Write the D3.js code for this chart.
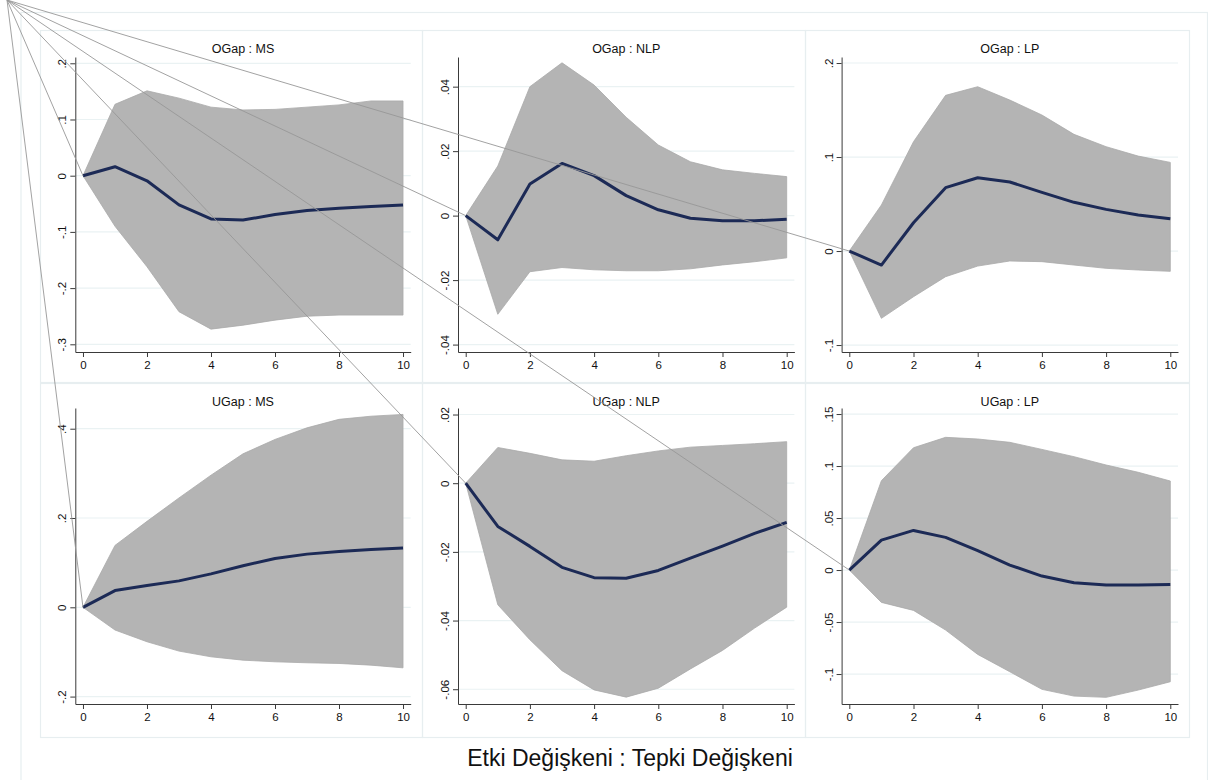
<!DOCTYPE html>
<html lang="tr">
<head>
  <meta charset="UTF-8">
  <title>IRF</title>
  <style>
    body { margin: 0; background: #fff; }
    svg { display: block; font-family: "Liberation Sans", Arial, sans-serif; }
    .frame { fill: none; stroke: #e7eef0; stroke-width: 1.2; }
    .grid line { stroke: #eaf2f3; stroke-width: 1.2; }
    .band { fill: #b4b4b4; stroke: #a9a9a9; stroke-width: 0.8; }
    .irf { fill: none; stroke: #1c2a56; stroke-width: 3; stroke-linejoin: round; }
    .axis path, .axis line { stroke: #3a3a3a; }
    .axis text { fill: #111; font-size: 11.5px; font-family: "Liberation Sans", Arial, sans-serif; }
    .ptitle { font-size: 12.5px; fill: #111; text-anchor: middle; }
    .stray { stroke: #979797; stroke-width: 0.9; fill: none; }
  </style>
</head>
<body>
  <svg width="1208" height="780"></svg>
  <script src="https://cdn.jsdelivr.net/npm/d3@7"></script>
  <script>
    // data
    var steps = [0, 1, 2, 3, 4, 5, 6, 7, 8, 9, 10];
    var xTicks = [0, 2, 4, 6, 8, 10];
    var titles = ["OGap : MS", "OGap : NLP", "OGap : LP", "UGap : MS", "UGap : NLP", "UGap : LP"];

    var ogapMsIrf = [0, 0.016, -0.009, -0.052, -0.077, -0.079, -0.069, -0.062, -0.058, -0.055, -0.052];
    var ogapMsLo  = [0, -0.090, -0.162, -0.242, -0.273, -0.266, -0.257, -0.250, -0.248, -0.248, -0.248];
    var ogapMsHi  = [0, 0.127, 0.151, 0.138, 0.122, 0.117, 0.118, 0.122, 0.126, 0.133, 0.133];
    var ogapMsTicks = [-0.3, -0.2, -0.1, 0, 0.1, 0.2];

    var ogapNlpIrf = [0, -0.0075, 0.0098, 0.0162, 0.0124, 0.0062, 0.0018, -0.0008, -0.0016, -0.0016, -0.0011];
    var ogapNlpLo  = [0, -0.0306, -0.0174, -0.0161, -0.0168, -0.0171, -0.0171, -0.0165, -0.0153, -0.0143, -0.0131];
    var ogapNlpHi  = [0, 0.0154, 0.0400, 0.0474, 0.0405, 0.0305, 0.0219, 0.0167, 0.0142, 0.0131, 0.0121];
    var ogapNlpTicks = [-0.04, -0.02, 0, 0.02, 0.04];

    var ogapLpIrf = [0, -0.0149, 0.0301, 0.0674, 0.0780, 0.0734, 0.0624, 0.0518, 0.0443, 0.0383, 0.0344];
    var ogapLpLo  = [0, -0.0716, -0.0486, -0.0273, -0.0160, -0.0106, -0.0113, -0.0149, -0.0184, -0.0202, -0.0216];
    var ogapLpHi  = [0, 0.0490, 0.1163, 0.1656, 0.1748, 0.1606, 0.1447, 0.1241, 0.1110, 0.1010, 0.0943];
    var ogapLpTicks = [-0.1, 0, 0.1, 0.2];

    var ugapMsIrf = [0, 0.0375, 0.0487, 0.0592, 0.0749, 0.0929, 0.1094, 0.1191, 0.1251, 0.1296, 0.1326];
    var ugapMsLo  = [0, -0.0509, -0.0772, -0.0981, -0.1109, -0.1184, -0.1221, -0.1243, -0.1258, -0.1296, -0.1356];
    var ugapMsHi  = [0, 0.1386, 0.1925, 0.2450, 0.2959, 0.3438, 0.3760, 0.4020, 0.4210, 0.4280, 0.4320];
    var ugapMsTicks = [-0.2, 0, 0.2, 0.4];

    var ugapNlpIrf = [0, -0.0126, -0.0184, -0.0245, -0.0275, -0.0277, -0.0254, -0.0218, -0.0183, -0.0146, -0.0114];
    var ugapNlpLo  = [0, -0.0354, -0.0456, -0.0546, -0.0602, -0.0623, -0.0597, -0.0541, -0.0487, -0.0422, -0.0361];
    var ugapNlpHi  = [0, 0.0104, 0.0087, 0.0068, 0.0064, 0.0080, 0.0094, 0.0105, 0.0110, 0.0115, 0.0121];
    var ugapNlpTicks = [-0.06, -0.04, -0.02, 0, 0.02];

    var ugapLpIrf = [0, 0.0288, 0.0381, 0.0314, 0.0186, 0.0048, -0.0058, -0.0122, -0.0144, -0.0144, -0.0138];
    var ugapLpLo  = [0, -0.0311, -0.0388, -0.0577, -0.0811, -0.0978, -0.1147, -0.1212, -0.1224, -0.1154, -0.1074];
    var ugapLpHi  = [0, 0.0859, 0.1176, 0.1276, 0.1260, 0.1228, 0.1160, 0.1090, 0.1010, 0.0940, 0.0856];
    var ugapLpTicks = [-0.1, -0.05, 0, 0.05, 0.1, 0.15];

    var series = [
      {irf: ogapMsIrf, lo: ogapMsLo, hi: ogapMsHi, ticks: ogapMsTicks},
      {irf: ogapNlpIrf, lo: ogapNlpLo, hi: ogapNlpHi, ticks: ogapNlpTicks},
      {irf: ogapLpIrf, lo: ogapLpLo, hi: ogapLpHi, ticks: ogapLpTicks},
      {irf: ugapMsIrf, lo: ugapMsLo, hi: ugapMsHi, ticks: ugapMsTicks},
      {irf: ugapNlpIrf, lo: ugapNlpLo, hi: ugapNlpHi, ticks: ugapNlpTicks},
      {irf: ugapLpIrf, lo: ugapLpLo, hi: ugapLpHi, ticks: ugapLpTicks}
    ];

    // layout (pixels)
    var cols = [{x0: 75.3, x1: 410.7, left: 40, right: 422},
                {x0: 458.0, x1: 794.4, left: 422, right: 805},
                {x0: 841.6, x1: 1178.0, left: 805, right: 1189}];
    var rows = [{top: 57, bottom: 352, boxTop: 30, boxBottom: 382, titleY: 52.7},
                {top: 408, bottom: 704, boxTop: 383, boxBottom: 737, titleY: 405.5}];
    // y extents of each plot region, so ticks land where the reference has them
    var yExtents = [[-0.3137, 0.2112], [-0.0423, 0.0492], [-0.1074, 0.2064],
                    [-0.2166, 0.4464], [-0.0643, 0.0219], [-0.1288, 0.1558]];

    var svg = d3.select("svg");

    // outer graph region
    svg.append("rect").attr("class", "frame")
      .attr("x", 21).attr("y", 12.5).attr("width", 1186.5).attr("height", 800);

    // stata style: .1, -.05, 0
    function fmt(v) {
      if (v === 0) return "0";
      return String(+v.toFixed(3)).replace(/^0\./, ".").replace(/^-0\./, "-.");
    }

    var origins = [];

    series.forEach(function(s, i) {
      var c = cols[i % 3], r = rows[Math.floor(i / 3)];
      var g = svg.append("g");

      g.append("rect").attr("class", "frame")
        .attr("x", c.left + 0.5).attr("y", r.boxTop + 0.5)
        .attr("width", c.right - c.left).attr("height", r.boxBottom - r.boxTop);

      var x = d3.scaleLinear().domain([-0.24, 10.24]).range([c.x0, c.x1]);
      var y = d3.scaleLinear().domain(yExtents[i]).range([r.bottom, r.top]);

      // grid
      g.append("g").attr("class", "grid")
        .selectAll("line").data(s.ticks).enter().append("line")
        .attr("x1", c.x0).attr("x2", c.x1)
        .attr("y1", function(d) { return y(d); })
        .attr("y2", function(d) { return y(d); });

      // confidence band
      var area = d3.area()
        .x(function(d, k) { return x(steps[k]); })
        .y0(function(d, k) { return y(s.lo[k]); })
        .y1(function(d, k) { return y(s.hi[k]); });
      g.append("path").datum(steps).attr("class", "band").attr("d", area);

      // irf line
      var line = d3.line()
        .x(function(d, k) { return x(steps[k]); })
        .y(function(d) { return y(d); });
      g.append("path").datum(s.irf).attr("class", "irf").attr("d", line);

      // x axis
      g.append("g").attr("class", "axis")
        .attr("transform", "translate(0," + r.bottom + ")")
        .call(d3.axisBottom(x).tickValues(xTicks).tickSize(5).tickSizeOuter(0).tickPadding(3.7));

      // y axis, labels turned
      var ya = g.append("g").attr("class", "axis")
        .attr("transform", "translate(" + c.x0 + ",0)")
        .call(d3.axisLeft(y).tickValues(s.ticks).tickSize(5).tickSizeOuter(0).tickFormat(fmt));
      ya.selectAll("text")
        .attr("x", null).attr("dy", null)
        .attr("text-anchor", "middle")
        .attr("transform", "translate(-9,0) rotate(-90)");

      g.append("text").attr("class", "ptitle")
        .attr("x", (c.x0 + c.x1) / 2).attr("y", r.titleY)
        .text(titles[i]);

      origins.push([x(steps[0]), y(s.irf[0])]);
    });

    // stray connector lines present in the reference
    svg.append("g").selectAll("line").data(origins).enter().append("line")
      .attr("class", "stray")
      .attr("x1", 7).attr("y1", 0)
      .attr("x2", function(d) { return d[0]; })
      .attr("y2", function(d) { return d[1]; });

    svg.append("text")
      .attr("x", 630).attr("y", 766)
      .attr("text-anchor", "middle")
      .style("font-size", "23px").style("fill", "#111")
      .text("Etki Değişkeni : Tepki Değişkeni");
  </script>
</body>
</html>
